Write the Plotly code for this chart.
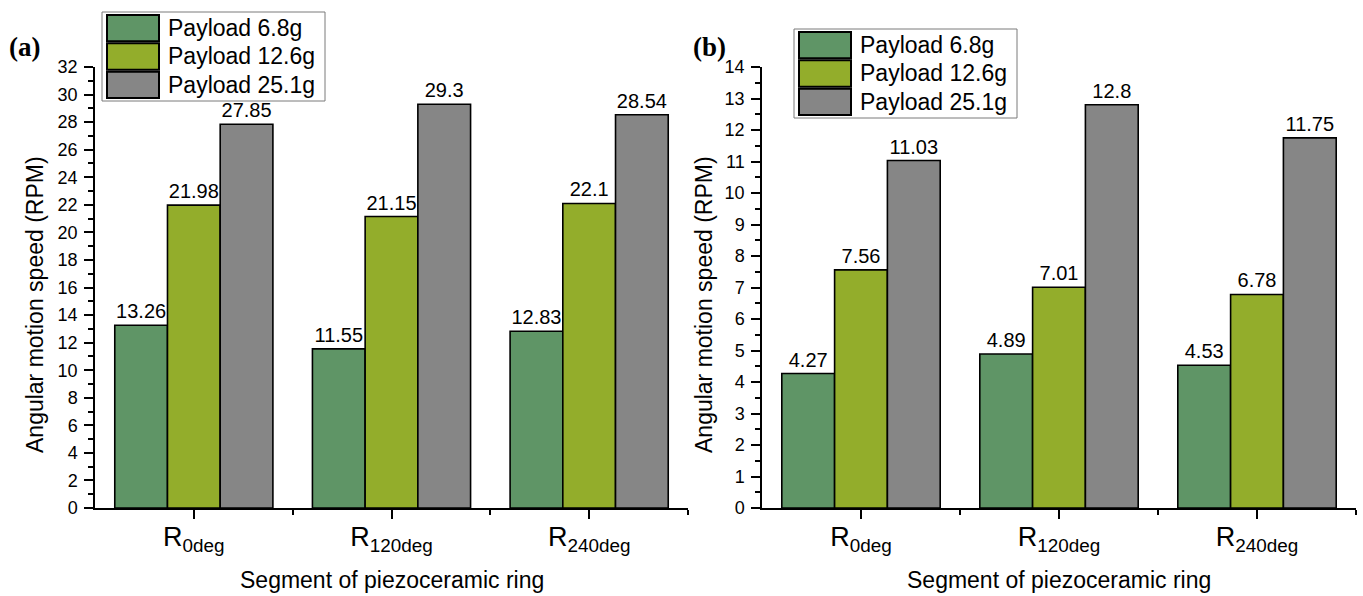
import plotly.graph_objects as go

# ---- data -------------------------------------------------------------
segments = ["R<sub>0deg</sub>", "R<sub>120deg</sub>", "R<sub>240deg</sub>"]
series_names = ["Payload 6.8g", "Payload 12.6g", "Payload 25.1g"]
series_colors = ["#5f9566", "#93ad2b", "#868686"]

# panel (a)
speed_a_6_8 = [13.26, 11.55, 12.83]
speed_a_12_6 = [21.98, 21.15, 22.1]
speed_a_25_1 = [27.85, 29.3, 28.54]

# panel (b)
speed_b_6_8 = [4.27, 4.89, 4.53]
speed_b_12_6 = [7.56, 7.01, 6.78]
speed_b_25_1 = [11.03, 12.8, 11.75]

panel_a = [speed_a_6_8, speed_a_12_6, speed_a_25_1]
panel_b = [speed_b_6_8, speed_b_12_6, speed_b_25_1]

# ---- geometry (pixels of the 1363x596 canvas) --------------------------
W, H = 1363, 596
FONT = "Liberation Sans, Arial, sans-serif"


def px_x(v):
    return v / W


def px_y(v):
    return 1 - v / H


fig = go.Figure()
positions = list(range(len(segments)))

for panel, (xa, ya) in ((panel_a, ("x", "y")), (panel_b, ("x2", "y2"))):
    for name, color, vals in zip(series_names, series_colors, panel):
        fig.add_trace(go.Bar(
            x=positions, y=vals, name=name, xaxis=xa, yaxis=ya,
            marker=dict(color=color, line=dict(color="black", width=1.6)),
            text=[f"{v:g}" for v in vals], textposition="outside",
            textfont=dict(family=FONT, size=20, color="black"),
            constraintext="none", cliponaxis=False, showlegend=False,
            offsetgroup=name,
        ))

common_x = dict(
    range=[-0.5, 2.5], tickmode="array", tickvals=positions, ticktext=segments,
    ticks="outside", ticklen=9, tickwidth=1.5, tickcolor="black",
    showline=True, linecolor="black", linewidth=1.5,
    showgrid=False, zeroline=False, automargin=False,
    ticklabelstandoff=-5,
    tickfont=dict(family=FONT, size=27, color="black"),
    minor=dict(tickvals=[0.5, 1.5, 2.5], ticks="outside", ticklen=5,
               tickwidth=1.5, tickcolor="black", showgrid=False),
)
common_y = dict(
    ticks="outside", ticklen=9, tickwidth=1.5, tickcolor="black",
    showline=True, linecolor="black", linewidth=1.5,
    showgrid=False, zeroline=False, tick0=0, automargin=False,
    ticklabelstandoff=3,
    tickfont=dict(family=FONT, size=18, color="black"),
)

y_dom = [px_y(508), px_y(67)]

fig.update_layout(
    width=W, height=H,
    margin=dict(l=0, r=0, t=0, b=0, pad=0, autoexpand=False),
    paper_bgcolor="white", plot_bgcolor="white",
    barmode="group", bargap=0.2, bargroupgap=0,
    showlegend=False,
    xaxis=dict(domain=[px_x(95), px_x(688)], anchor="y", **common_x),
    yaxis=dict(domain=y_dom, anchor="x", range=[0, 32], dtick=2,
               minor=dict(dtick=1, ticks="outside", ticklen=5, tickwidth=1.5,
                          tickcolor="black", showgrid=False),
               **common_y),
    xaxis2=dict(domain=[px_x(762), px_x(1356)], anchor="y2", **common_x),
    yaxis2=dict(domain=y_dom, anchor="x2", range=[0, 14], dtick=1,
                minor=dict(dtick=0.5, ticks="outside", ticklen=5, tickwidth=1.5,
                           tickcolor="black", showgrid=False),
                **common_y),
)

annotations = []
shapes = []

# axis titles and panel tags
for x_center, y_title_x, tag, tag_x in ((391.5, 35, "<b>(a)</b>", 7),
                                        (1059, 704, "<b>(b)</b>", 691)):
    annotations.append(dict(
        text="Segment of piezoceramic ring", xref="paper", yref="paper",
        x=px_x(x_center), y=px_y(580), xanchor="center", yanchor="middle",
        showarrow=False, font=dict(family=FONT, size=23, color="black")))
    annotations.append(dict(
        text="Angular motion speed (RPM)", xref="paper", yref="paper",
        x=px_x(y_title_x), y=px_y(305), xanchor="center", yanchor="middle",
        textangle=-90, showarrow=False,
        font=dict(family=FONT, size=23, color="black")))
    annotations.append(dict(
        text=tag, xref="paper", yref="paper",
        x=px_x(tag_x), y=px_y(47), xanchor="left", yanchor="middle",
        showarrow=False,
        font=dict(family="Liberation Serif, Times New Roman, serif", size=27,
                  color="black")))

# legend boxes: (box left, box top, box right, box bottom)
for bx0, by0, bx1, by1 in ((102, 12, 325, 101), (794, 29, 1017, 118)):
    shapes.append(dict(type="rect", xref="paper", yref="paper",
                       x0=px_x(bx0), x1=px_x(bx1), y0=px_y(by1), y1=px_y(by0),
                       line=dict(color="#7a7a7a", width=1), fillcolor="white",
                       layer="above"))
    row_h = (by1 - by0 - 4) / 3
    for i, (name, color) in enumerate(zip(series_names, series_colors)):
        top = by0 + 3 + i * row_h
        bottom = top + row_h - 2
        shapes.append(dict(type="rect", xref="paper", yref="paper",
                           x0=px_x(bx0 + 5), x1=px_x(bx0 + 57),
                           y0=px_y(bottom), y1=px_y(top),
                           line=dict(color="black", width=2), fillcolor=color,
                           layer="above"))
        annotations.append(dict(
            text=name, xref="paper", yref="paper",
            x=px_x(bx0 + 64), y=px_y((top + bottom) / 2),
            xanchor="left", yanchor="middle", showarrow=False,
            font=dict(family=FONT, size=23, color="black")))

fig.update_layout(annotations=annotations, shapes=shapes)

fig.write_html("out.html")
